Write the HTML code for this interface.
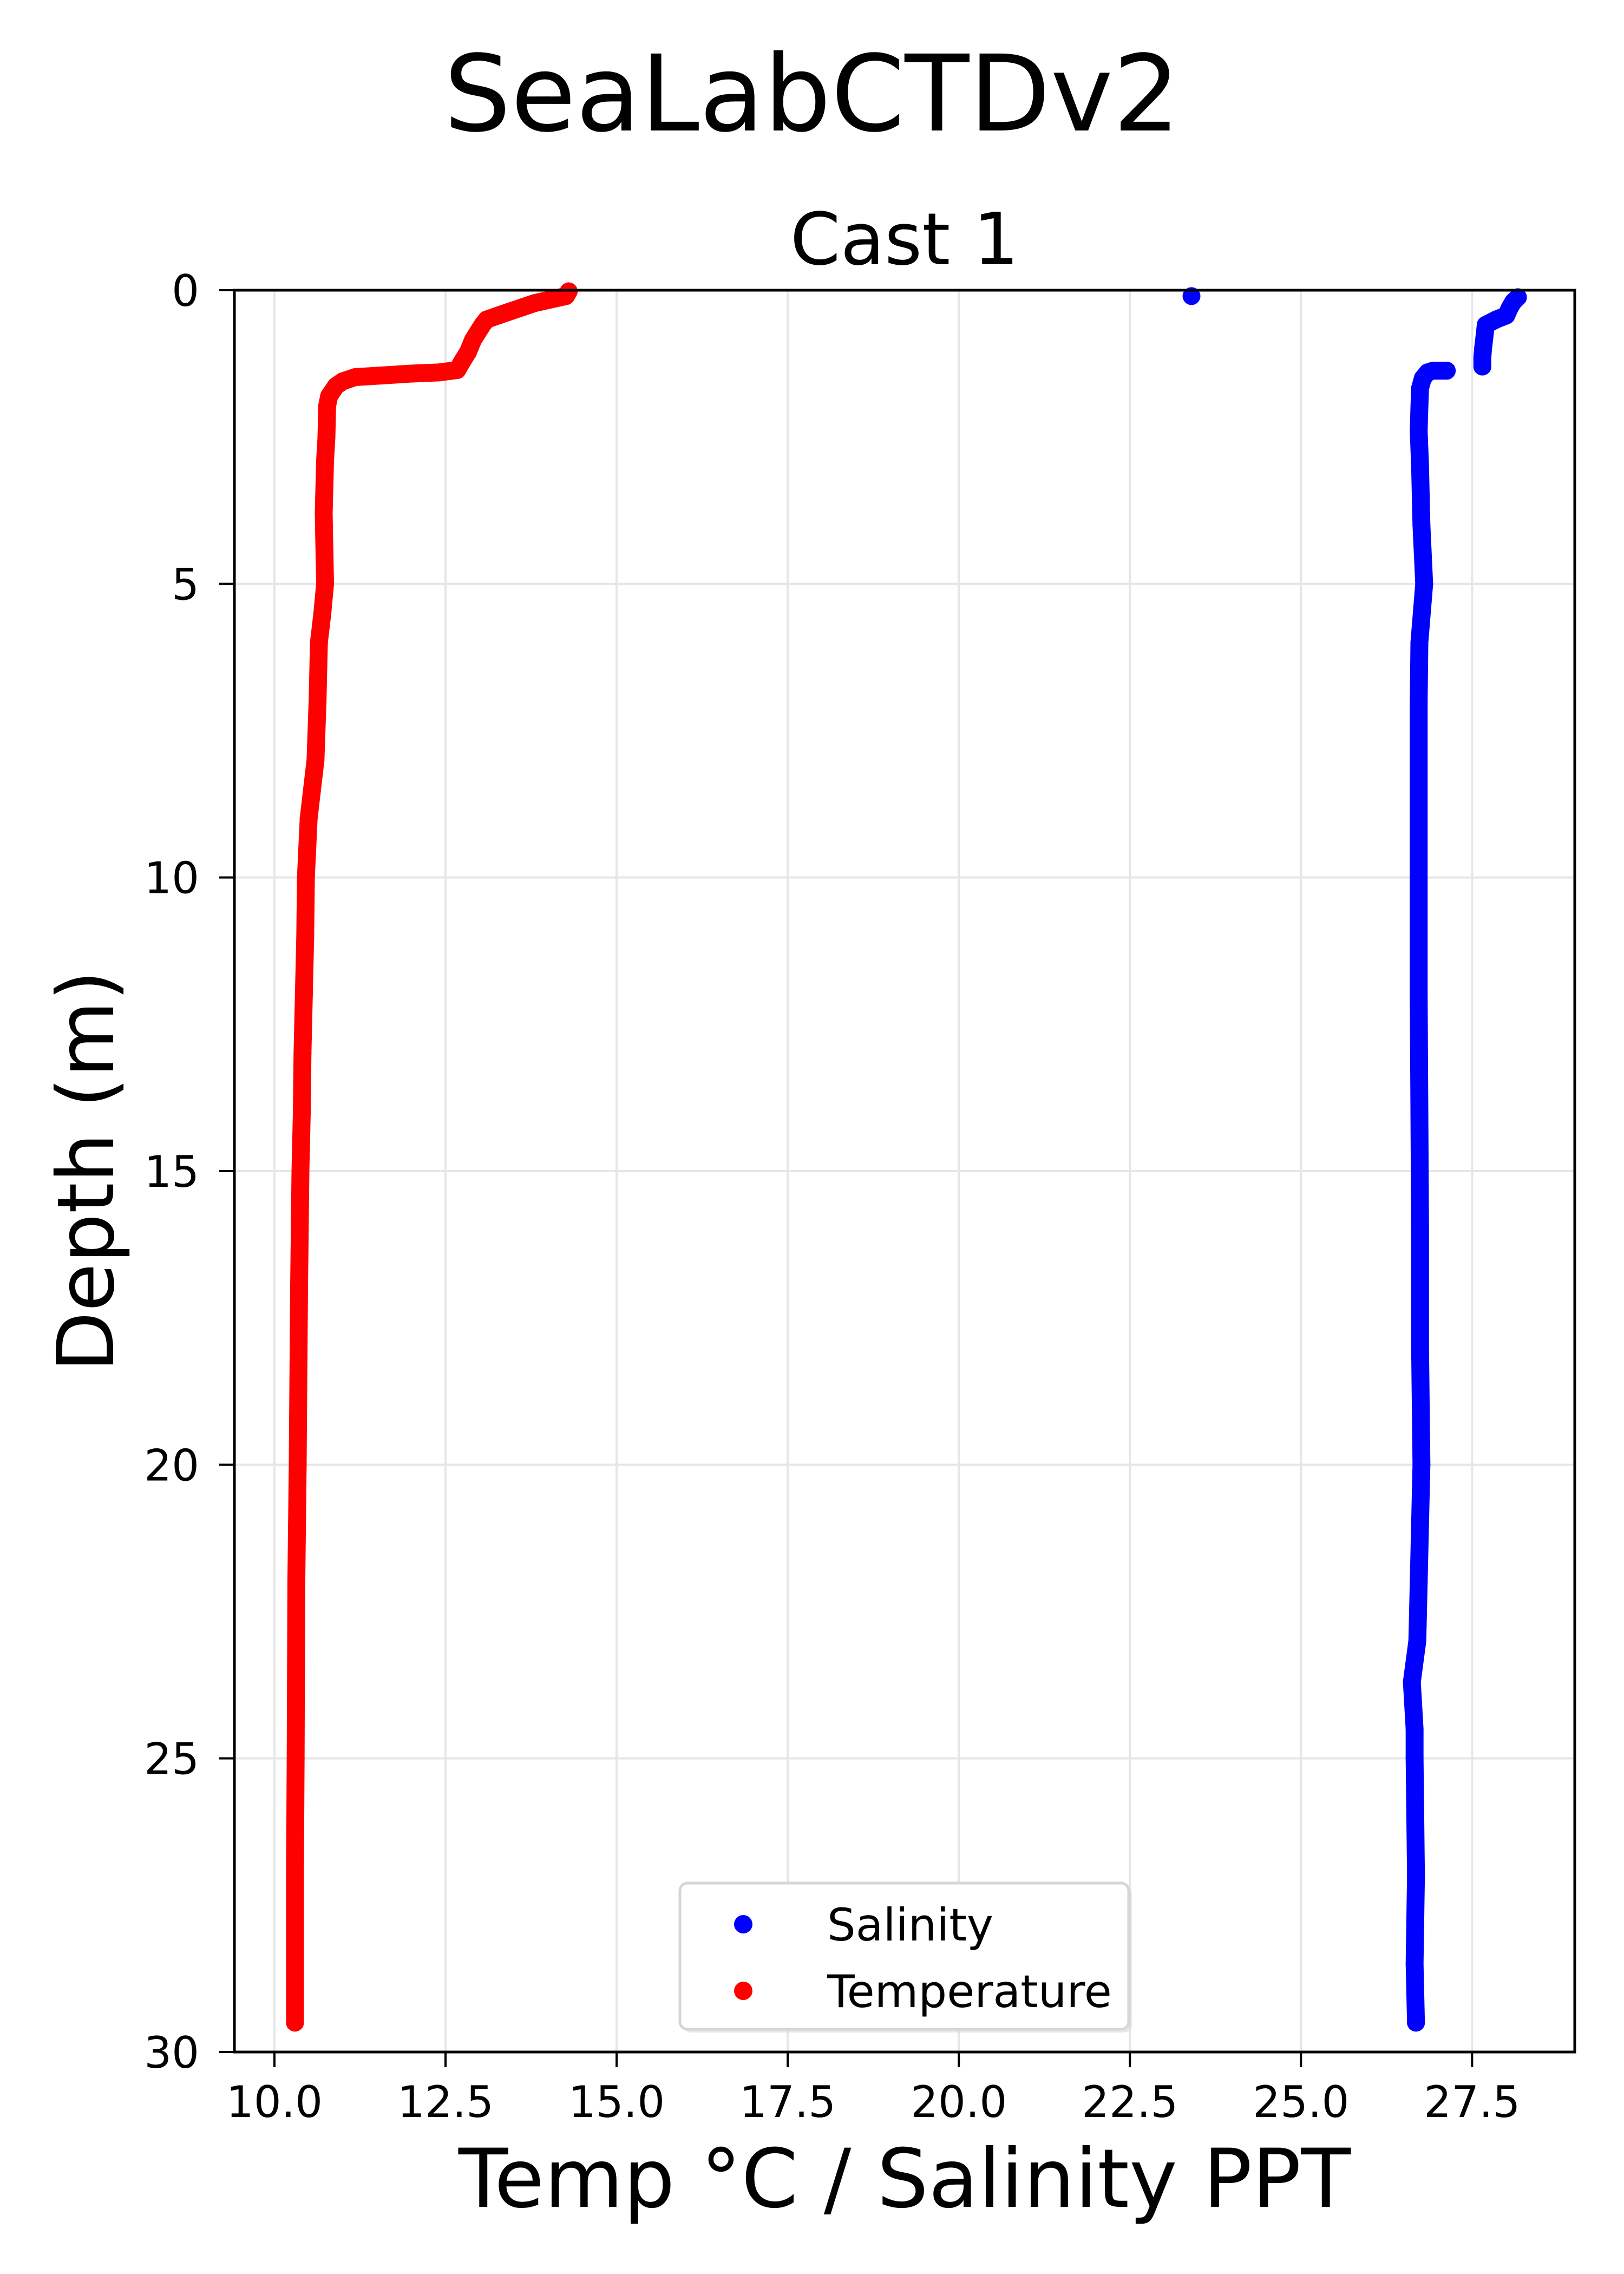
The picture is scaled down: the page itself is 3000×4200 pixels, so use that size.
<!DOCTYPE html>
<html><head><meta charset="utf-8"><style>
html,body{margin:0;padding:0;background:#fff;}
svg{display:block;font-family:"DejaVu Sans","Liberation Sans",sans-serif;}
</style></head><body>
<svg id="chart" width="3000" height="4200" viewBox="0 0 3000 4200" xmlns="http://www.w3.org/2000/svg">
<rect width="3000" height="4200" fill="#fff"/>
<text x="1500" y="241" font-size="195" text-anchor="middle">SeaLabCTDv2</text>
<text x="1671" y="488" font-size="133" text-anchor="middle">Cast 1</text>
<g id="grid"></g>
<g id="series"></g>
<rect x="433" y="536" width="2476" height="3254" fill="none" stroke="#000" stroke-width="5"/>
<g id="ticks"></g>
<text x="1671" y="4076" font-size="150" text-anchor="middle">Temp °C / Salinity PPT</text>
<text transform="translate(209,2163) rotate(-90)" font-size="145" text-anchor="middle">Depth (m)</text>
<g>
<rect x="1262" y="3484" width="829" height="270" rx="14" fill="#d9d9d9" opacity="0.6"/>
<rect x="1256" y="3478" width="829" height="270" rx="14" fill="#fff" stroke="#d6d6d6" stroke-width="5"/>
<circle cx="1373" cy="3554" r="17" fill="#0000ff"/>
<text x="1528" y="3584" font-size="83">Salinity</text>
<circle cx="1373" cy="3677" r="17" fill="#ff0000"/>
<text x="1528" y="3707" font-size="83">Temperature</text>
</g>
</svg>
<script>
const xTicks = [10.0, 12.5, 15.0, 17.5, 20.0, 22.5, 25.0, 27.5];
const xTickLabels = ["10.0","12.5","15.0","17.5","20.0","22.5","25.0","27.5"];
const yTicks = [0, 5, 10, 15, 20, 25, 30];
const yTickLabels = ["0","5","10","15","20","25","30"];
const tempDepth = [0.02,0.1,0.22,0.43,0.5,0.59,0.7,0.85,1.05,1.2,1.36,1.4,1.42,1.45,1.48,1.55,1.63,1.8,1.97,2.5,2.9,3.8,5.0,5.5,6.0,7.0,8.0,8.5,9.0,9.5,10,11,12,13,14,15,17,20,22,25,27,29.5];
const temp = [14.3,14.26,13.8,13.27,13.1,13.04,12.98,12.9,12.83,12.75,12.67,12.4,12.0,11.6,11.18,11.0,10.9,10.8,10.77,10.76,10.74,10.72,10.74,10.7,10.65,10.63,10.6,10.55,10.5,10.48,10.46,10.45,10.43,10.41,10.4,10.38,10.36,10.34,10.32,10.31,10.3,10.3];
const salDepth = [0.1,0.12,0.2,0.3,0.43,0.5,0.59,0.8,1.0,1.15,1.3,1.37,1.37,1.4,1.5,1.67,2.0,2.4,3,4,5,6,7,8,9,10,12,14,16,18,20,22,23,23.7,24.5,25,27,28.5,29.5];
const sal = [23.4,28.17,28.1,28.05,28.0,27.85,27.7,27.68,27.66,27.65,27.65,27.13,26.93,26.85,26.78,26.74,26.73,26.72,26.74,26.76,26.8,26.73,26.72,26.72,26.72,26.72,26.72,26.73,26.74,26.74,26.76,26.72,26.7,26.62,26.66,26.66,26.68,26.66,26.68];

const NS = "http://www.w3.org/2000/svg";
const L = 433, R = 2909, T = 536, B = 3790;
const xMin = 9.415, xMax = 29.0, yMin = 0, yMax = 30;
function xs(v){ return L + (v - xMin) / (xMax - xMin) * (R - L); }
function ys(v){ return T + (v - yMin) / (yMax - yMin) * (B - T); }
function mk(tag, attrs, parent){ const e = document.createElementNS(NS, tag); for (const k in attrs) e.setAttribute(k, attrs[k]); parent.appendChild(e); return e; }

const grid = document.getElementById('grid');
const ticks = document.getElementById('ticks');
xTicks.forEach((v, i) => {
  const x = xs(v);
  const g = mk('line', {x1:x, x2:x, y1:T, y2:B, stroke:'#e6e6e6', 'stroke-width':4}, grid);
  
  
  const t = mk('line', {x1:x, x2:x, y1:B, y2:B+28, stroke:'#000', 'stroke-width':4}, ticks);
  
  
  const lb = mk('text', {x:x, y:3910, 'font-size':80, 'text-anchor':'middle'}, ticks);
  lb.textContent = xTickLabels[i];
  
  
});
yTicks.forEach((v, i) => {
  const y = ys(v);
  const g = mk('line', {x1:L, x2:R, y1:y, y2:y, stroke:'#e6e6e6', 'stroke-width':4}, grid);
  
  
  const t = mk('line', {x1:L-28, x2:L, y1:y, y2:y, stroke:'#000', 'stroke-width':4}, ticks);
  
  
  const lb = mk('text', {x:L-65, y:y+29, 'font-size':80, 'text-anchor':'end'}, ticks);
  lb.textContent = yTickLabels[i];
  
  
});

const series = document.getElementById('series');
function drawSeries(xv, yv, color, name, maxDx){
  const g = mk('g', {}, series);
  
  
  let d = '';
  for (let i = 1; i < xv.length; i++){
    const x = xs(xv[i]), y = ys(yv[i]);
    const px = xs(xv[i-1]), py = ys(yv[i-1]);
    if (Math.abs(x-px) < maxDx){ d += 'M' + px + ' ' + py + 'L' + x + ' ' + y; }
  }
  const p = mk('path', {d:d, stroke:color, 'stroke-width':33, 'stroke-linecap':'round', fill:'none'}, g);
  
  
  for (let i = 0; i < xv.length; i++){
    const c = mk('circle', {cx:xs(xv[i]), cy:ys(yv[i]), r:16.5, fill:color}, g);
    
    
  }
}
drawSeries(sal, salDepth, '#0000ff', 'salinity', 50);
drawSeries(temp, tempDepth, '#ff0000', 'temperature', 1000);
</script>
</body></html>
